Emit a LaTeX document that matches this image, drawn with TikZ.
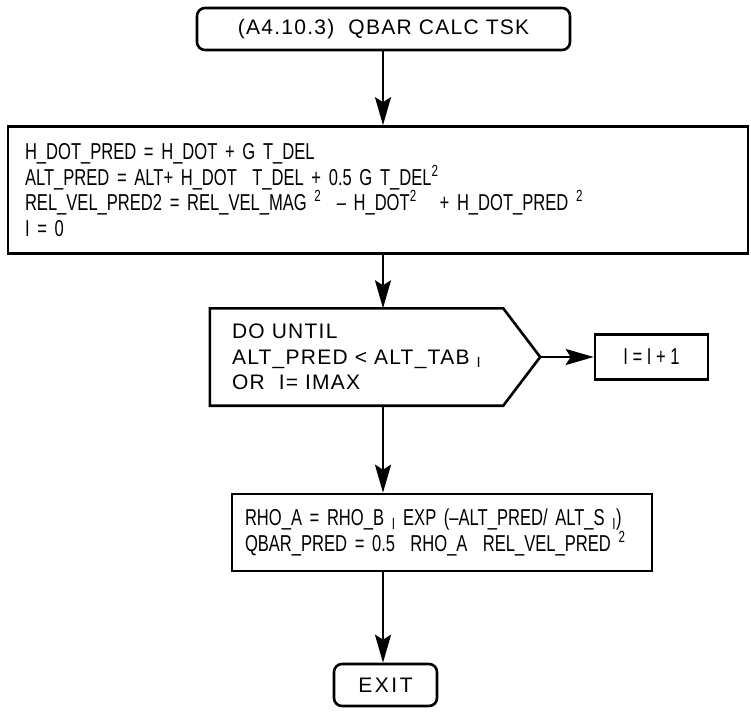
\documentclass[tikz,border=0pt]{standalone}
\usepackage{fontspec}
\setmainfont{Liberation Sans}[FakeStretch=0.72]
\newfontfamily\widefont{Liberation Sans}[LetterSpace=6]
\usetikzlibrary{arrows.meta}
\tikzset{
  box/.style={draw, line width=2.6pt, inner sep=0pt},
  rbox/.style={box, rounded corners=8pt},
  flow/.style={line width=2.2pt, -{Stealth[length=28pt,width=16pt,inset=5pt]}},
}
\begin{document}
\begin{tikzpicture}[x=1pt,y=-1pt,font=\fontsize{23}{25.7}\selectfont]
\useasboundingbox (0,0) rectangle (751,711);
\def\xS{383};
\node[rbox, minimum width=373pt, minimum height=42pt, font=\fontsize{21}{25.7}\widefont] (title) at (383.5,29) {(A4.10.3)~ QBAR CALC TSK};
\node[box, minimum width=740pt, minimum height=127pt, text width=706pt, align=left] (init) at (378,190)
  {H\_DOT\_PRED = H\_DOT + G T\_DEL\\
   ALT\_PRED = ALT+ H\_DOT~ T\_DEL + 0.5 G T\_DEL\textsuperscript{2}\\
   REL\_VEL\_PRED2 = REL\_VEL\_MAG \textsuperscript{2} ~– H\_DOT\textsuperscript{2}~ ~+ H\_DOT\_PRED \textsuperscript{2}\\
   I = 0};
\node[inner sep=0pt, minimum width=330pt, minimum height=97pt, text width=286pt, align=left, font=\fontsize{21}{25.7}\widefont] (loop) at (375,357)
  {DO UNTIL\\
   ALT\_PRED < ALT\_TAB \textsubscript{I}\\
   OR~ I= IMAX};
\draw[line width=2.6pt] (loop.north west) -- ([xshift=-37pt]loop.north east) -- (loop.east)
  -- ([xshift=-37pt]loop.south east) -- (loop.south west) -- cycle;
\node[box, minimum width=113pt, minimum height=45pt] (incr) at (651.5,357) {I = I + 1};
\node[box, minimum width=420pt, minimum height=77pt, text width=394pt, align=left] (rho) at (442,532.5)
  {\mbox{RHO\_A = RHO\_B \textsubscript{I} EXP (–ALT\_PRED/ ALT\_S \textsubscript{I})}\\
   \mbox{QBAR\_PRED = 0.5~ RHO\_A~ REL\_VEL\_PRED \textsuperscript{2}}};
\node[rbox, minimum width=103pt, minimum height=42pt, font=\fontsize{21}{25.7}\widefont\addfontfeature{LetterSpace=12}] (exit) at (385.5,685) {EXIT};
\draw[flow] (\xS,0 |- title.south) -- (\xS,0 |- init.north);
\draw[flow] (\xS,0 |- init.south) -- (\xS,0 |- loop.north);
\draw[flow] (loop.east) -- (incr.west);
\draw[flow] (\xS,0 |- loop.south) -- (\xS,0 |- rho.north);
\draw[flow] (\xS,0 |- rho.south) -- (\xS,0 |- exit.north);
\end{tikzpicture}
\end{document}
